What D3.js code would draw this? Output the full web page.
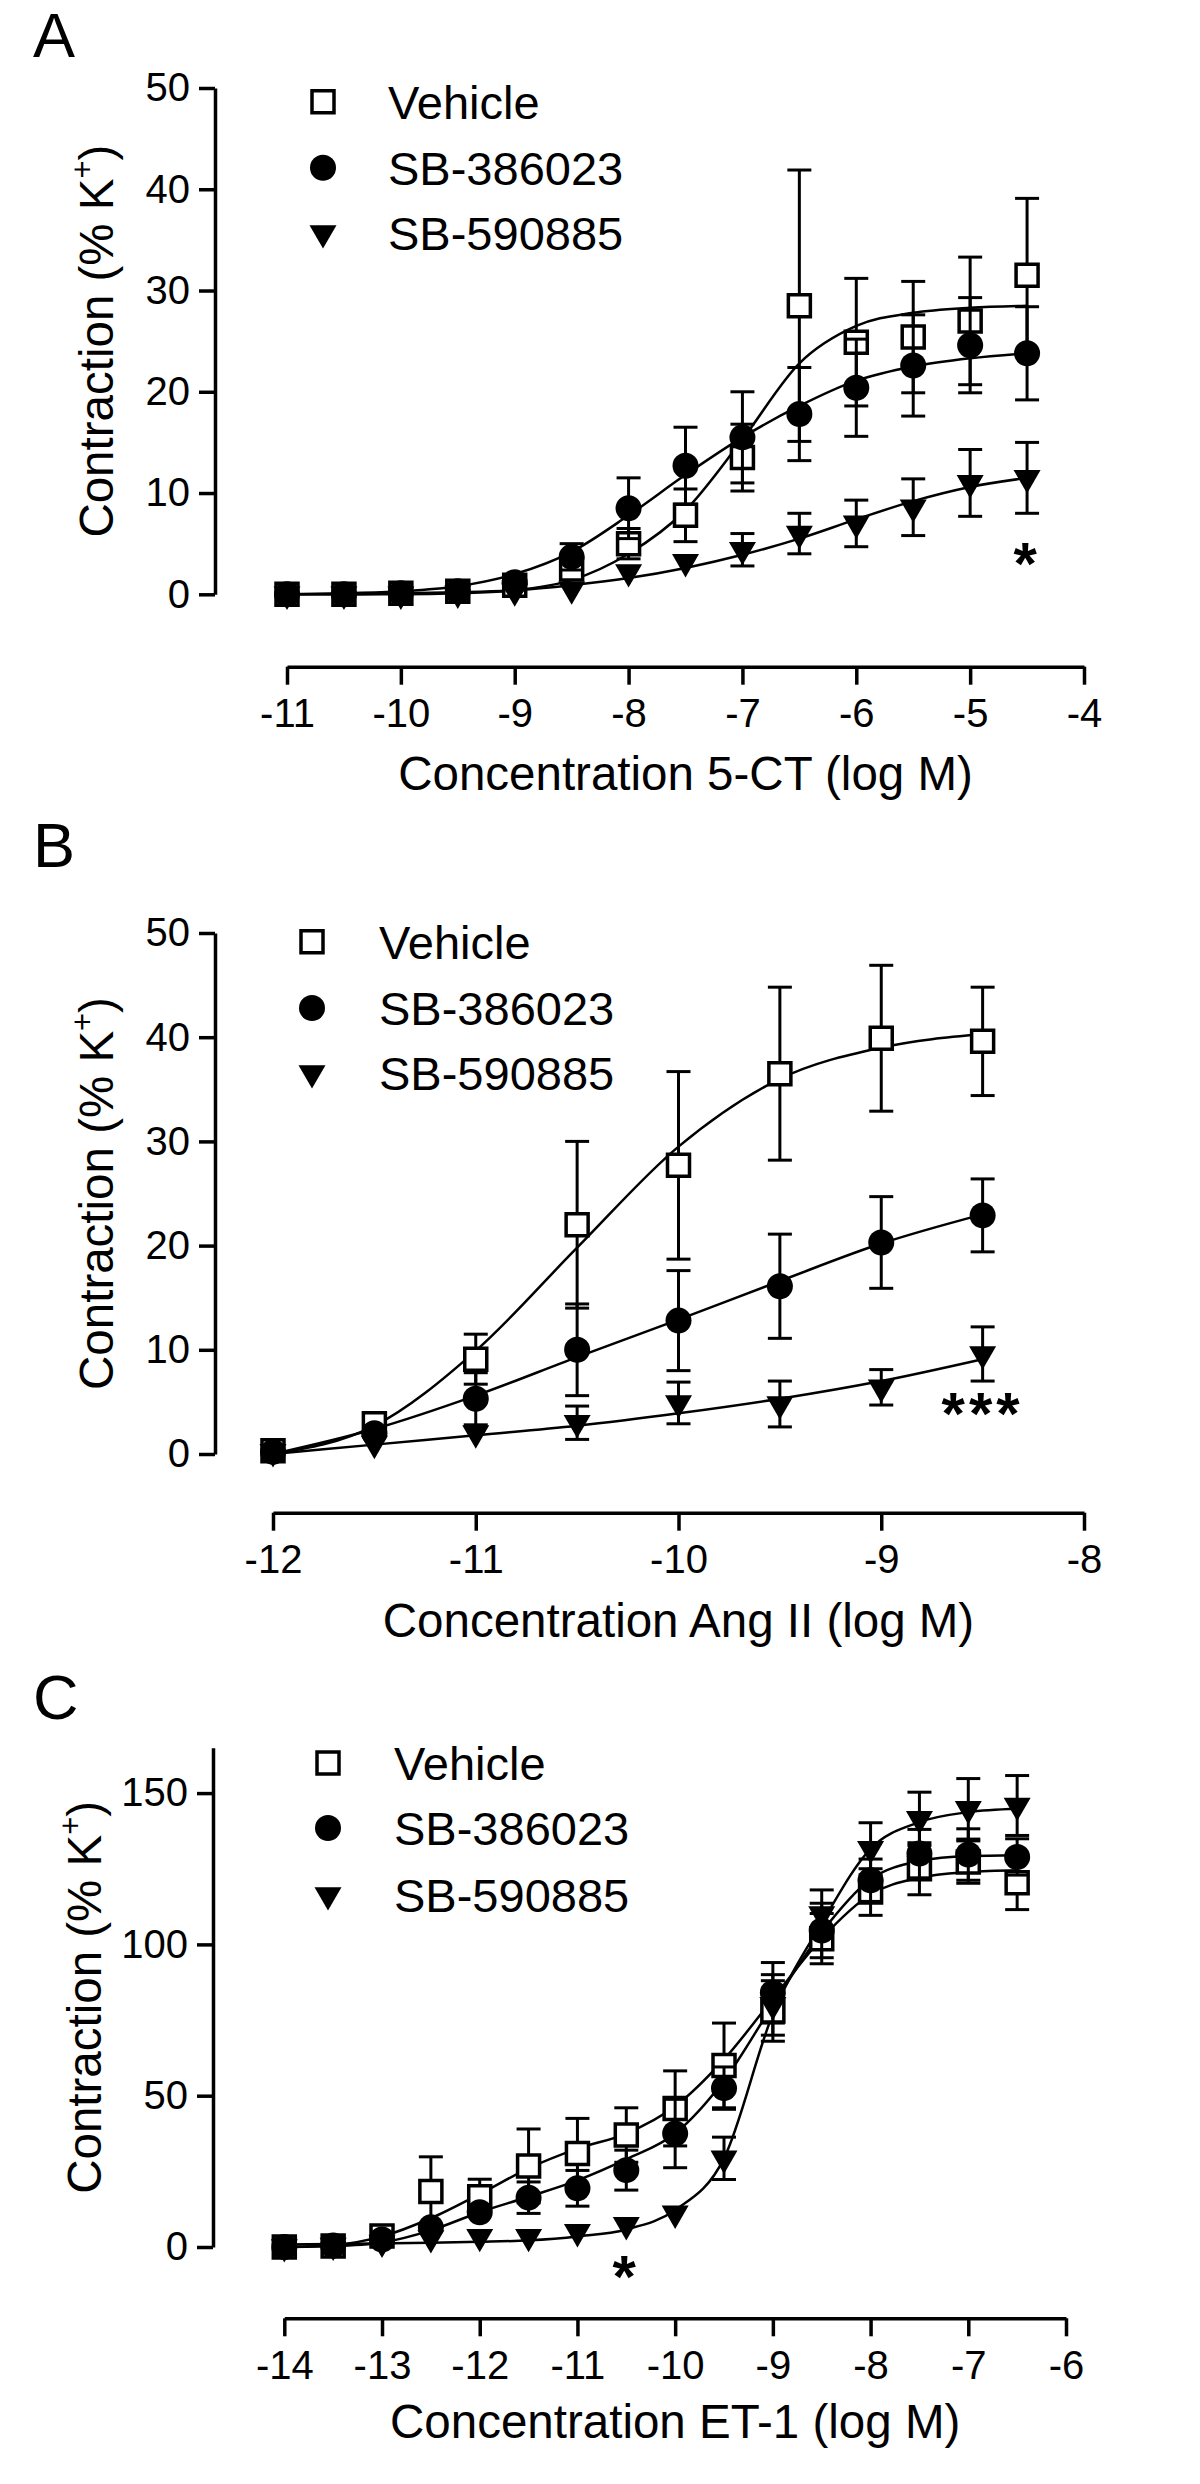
<!DOCTYPE html>
<html><head><meta charset="utf-8">
<script src="https://cdn.jsdelivr.net/npm/d3@7"></script>
<style>
html,body{margin:0;padding:0;background:#fff;}
svg{display:block;}
text{font-family:"Liberation Sans", Arial, Helvetica, sans-serif; fill:#000;}
</style></head><body>
<svg id="fig" width="1200" height="2484"></svg>
<script>
// ================= DATA =================
const seriesNames = ["Vehicle", "SB-386023", "SB-590885"];
const panelLetters = ["A", "B", "C"];
const xTitles = ["Concentration 5-CT (log M)", "Concentration Ang II (log M)", "Concentration ET-1 (log M)"];
const yTitleMain = "Contraction (% K";
const yTitleSup = "+";
const yTitleEnd = ")";

// Panel A : 5-CT
const dosesA = [-11, -10.5, -10, -9.5, -9, -8.5, -8, -7.5, -7, -6.5, -6, -5.5, -5, -4.5];
const vehicleA = [0, 0, 0.1, 0.3, 0.9, 2.5, 5.0, 7.8, 13.5, 28.5, 24.9, 25.4, 27.0, 31.5];
const vehicleSemA = [0, 0, 0, 0.2, 0.3, 0.8, 1.5, 2.6, 3.3, 13.4, 6.3, 5.5, 6.3, 7.6];
const sb386023A = [0, 0, 0.1, 0.3, 1.2, 3.7, 8.5, 12.7, 15.5, 17.8, 20.4, 22.6, 24.6, 23.8];
const sb386023SemA = [0, 0, 0, 0.2, 0.4, 1.3, 3.0, 3.8, 4.5, 4.6, 4.8, 5.0, 4.7, 4.6];
const sb590885A = [0, 0, 0, 0.1, 0.3, 0.5, 2.2, 3.2, 4.4, 6.0, 7.0, 8.6, 11.0, 11.5];
const sb590885SemA = [0, 0, 0, 0, 0.2, 0.4, 0.8, 0.8, 1.6, 2.0, 2.3, 2.8, 3.3, 3.5];
const vehicleFitA = [0, 0, 0, 0.1, 0.4, 1.4, 4.0, 8.3, 15.3, 22.8, 26.5, 27.8, 28.3, 28.5];
const sb386023FitA = [0, 0.1, 0.3, 0.8, 2.0, 4.2, 7.8, 11.8, 15.5, 18.6, 21.1, 22.5, 23.3, 23.8];
const sb590885FitA = [0, 0, 0.1, 0.2, 0.4, 0.9, 1.6, 2.6, 3.9, 5.5, 7.4, 9.2, 10.6, 11.5];
const xDomainA = [-11, -4];
const xTicksA = [-11, -10, -9, -8, -7, -6, -5, -4];
const xTickLabelsA = ["-11", "-10", "-9", "-8", "-7", "-6", "-5", "-4"];
const yDomainA = [0, 50];
const yTicksA = [0, 10, 20, 30, 40, 50];
const yTickLabelsA = ["0", "10", "20", "30", "40", "50"];

// Panel B : Ang II
const dosesB = [-12, -11.5, -11, -10.5, -10, -9.5, -9, -8.5];
const vehicleB = [0.3, 2.9, 9.1, 22.0, 27.7, 36.5, 39.9, 39.6];
const vehicleSemB = [0.2, 0.5, 2.4, 8.0, 9.0, 8.3, 7.0, 5.2];
const sb386023B = [0.2, 2.0, 5.3, 10.0, 12.8, 16.1, 20.3, 22.9];
const sb386023SemB = [0.1, 0.5, 2.5, 4.4, 4.8, 5.0, 4.4, 3.5];
const sb590885B = [0.2, 1.0, 2.0, 3.0, 4.9, 4.8, 6.4, 9.6];
const sb590885SemB = [0.1, 0.3, 0.8, 1.6, 2.0, 2.2, 1.7, 2.6];
const vehicleFitB = [0, 2.7, 9.9, 19.8, 29.5, 36.0, 39.0, 40.3];
const sb386023FitB = [0, 2.4, 5.6, 9.3, 12.9, 16.6, 20.2, 23.0];
const sb590885FitB = [0, 0.9, 1.8, 2.7, 3.9, 5.3, 7.0, 9.1];
const xDomainB = [-12, -8];
const xTicksB = [-12, -11, -10, -9, -8];
const xTickLabelsB = ["-12", "-11", "-10", "-9", "-8"];
const yDomainB = [0, 50];
const yTicksB = [0, 10, 20, 30, 40, 50];
const yTickLabelsB = ["0", "10", "20", "30", "40", "50"];

// Panel C : ET-1
const dosesC = [-14, -13.5, -13, -12.5, -12, -11.5, -11, -10.5, -10, -9.5, -9, -8.5, -8, -7.5, -7, -6.5];
const vehicleC = [0, 0.3, 3.6, 18.3, 16.6, 26.8, 30.9, 37.0, 45.8, 60.0, 78.0, 101.9, 117.3, 125.0, 127.2, 120.4];
const vehicleSemC = [0, 0.5, 1.5, 11.5, 5.8, 12.2, 11.6, 9.0, 12.4, 14.0, 10.0, 8.3, 7.7, 8.6, 7.0, 8.9];
const sb386023C = [0, 0.5, 2.5, 6.5, 11.5, 16.3, 19.4, 25.4, 37.5, 52.5, 84.0, 104.6, 121.2, 130.0, 129.7, 128.9];
const sb386023SemC = [0, 0.3, 1.0, 3.0, 3.5, 5.2, 5.9, 6.6, 11.3, 7.0, 10.0, 9.0, 7.0, 8.0, 8.5, 6.0];
const sb590885C = [0, 0.5, 1.5, 3.0, 3.4, 3.4, 5.0, 7.3, 11.1, 29.3, 80.0, 110.0, 131.6, 141.5, 144.8, 145.9];
const sb590885SemC = [0, 0.3, 0.5, 0.8, 0.8, 0.8, 1.0, 1.2, 1.5, 7.0, 10.0, 8.0, 8.6, 8.8, 10.0, 9.9];
const vehicleFitC = [0, 0.6, 3.5, 9.5, 17.5, 26.0, 32.5, 37.5, 46.5, 62.0, 82.0, 102.0, 116.5, 122.0, 123.9, 124.5];
const sb386023FitC = [0, 0.3, 1.5, 5.5, 11.5, 16.6, 22.0, 29.0, 37.5, 55.0, 80.0, 104.0, 121.5, 127.5, 129.2, 129.5];
const sb590885FitC = [0.8, 1.0, 1.2, 1.4, 1.7, 2.2, 3.5, 5.8, 12.2, 29.3, 77.0, 107.0, 131.6, 140.4, 143.7, 144.8];
const xDomainC = [-14, -6];
const xTicksC = [-14, -13, -12, -11, -10, -9, -8, -7, -6];
const xTickLabelsC = ["-14", "-13", "-12", "-11", "-10", "-9", "-8", "-7", "-6"];
const yDomainC = [0, 165];
const yTicksC = [0, 50, 100, 150];
const yTickLabelsC = ["0", "50", "100", "150"];

// significance marks
const sigLabels = ["*", "***", "*"];
const sigDoses = [-4.5, -8.5, -10.5];

// ================= LAYOUT =================
const layouts = [
  {letterX: 33, letterY: 57, yAxisX: 215, yRange: [594.3, 88], xAxisY: 666.7, xRange: [287, 1084],
   xTitleY: 790, yTitleX: 113, legMarkX: 323, legTextX: 388, legY: [101.7, 167.7, 233], sigY: 549},
  {letterX: 33, letterY: 867, yAxisX: 215, yRange: [1454, 933], xAxisY: 1512.7, xRange: [273, 1084],
   xTitleY: 1637, yTitleX: 113, legMarkX: 312, legTextX: 379, legY: [941.7, 1008, 1073], sigY: 1399},
  {letterX: 33, letterY: 1719, yAxisX: 213, yRange: [2247, 1747.7], xAxisY: 2318.3, xRange: [284.3, 1066],
   xTitleY: 2438, yTitleX: 101, legMarkX: 328, legTextX: 394, legY: [1763, 1828, 1895], sigY: 2262}
];
const TICK_FONT = 40, TITLE_FONT = 47.5, LEG_FONT = 47, LETTER_FONT = 63, SIG_FONT = 60;
const AXIS_W = 3.5, CURVE_W = 2.5, BAR_W = 3, CAP_W = 24;

const panels = [
  {doses: dosesA, means: [vehicleA, sb386023A, sb590885A], sems: [vehicleSemA, sb386023SemA, sb590885SemA],
   fits: [vehicleFitA, sb386023FitA, sb590885FitA], xDomain: xDomainA, xTicks: xTicksA, xTickLabels: xTickLabelsA,
   yDomain: yDomainA, yTicks: yTicksA, yTickLabels: yTickLabelsA},
  {doses: dosesB, means: [vehicleB, sb386023B, sb590885B], sems: [vehicleSemB, sb386023SemB, sb590885SemB],
   fits: [vehicleFitB, sb386023FitB, sb590885FitB], xDomain: xDomainB, xTicks: xTicksB, xTickLabels: xTickLabelsB,
   yDomain: yDomainB, yTicks: yTicksB, yTickLabels: yTickLabelsB},
  {doses: dosesC, means: [vehicleC, sb386023C, sb590885C], sems: [vehicleSemC, sb386023SemC, sb590885SemC],
   fits: [vehicleFitC, sb386023FitC, sb590885FitC], xDomain: xDomainC, xTicks: xTicksC, xTickLabels: xTickLabelsC,
   yDomain: yDomainC, yTicks: yTicksC, yTickLabels: yTickLabelsC}
];

const svg = d3.select("#fig");
svg.append("rect").attr("width", 1200).attr("height", 2484).attr("fill", "#fff");

const symSquare = d3.symbol().type(d3.symbolSquare).size(22 * 22)();
const symCircle = d3.symbol().type(d3.symbolCircle).size(Math.PI * 13 * 13)();
const symTri = d3.symbol().type(d3.symbolTriangle).size(Math.sqrt(3) / 4 * 27 * 27)();

function drawMarker(g, k, cx, cy) {
  if (k === 0) {
    g.append("path").attr("d", symSquare).attr("transform", `translate(${cx},${cy})`)
      .attr("fill", "#fff").attr("stroke", "#000").attr("stroke-width", 3.5);
  } else if (k === 1) {
    g.append("path").attr("d", symCircle).attr("transform", `translate(${cx},${cy})`).attr("fill", "#000");
  } else {
    g.append("path").attr("d", symTri).attr("transform", `translate(${cx},${cy}) rotate(180)`).attr("fill", "#000");
  }
}

panels.forEach((p, pi) => {
  const L = layouts[pi];
  const g = svg.append("g");
  const x = d3.scaleLinear().domain(p.xDomain).range(L.xRange);
  const y = d3.scaleLinear().domain(p.yDomain).range(L.yRange);

  // panel letter
  g.append("text").attr("x", L.letterX).attr("y", L.letterY).attr("font-size", LETTER_FONT).text(panelLetters[pi]);

  // y axis
  const yAx = d3.axisLeft(y).tickValues(p.yTicks)
    .tickFormat(d => p.yTickLabels[p.yTicks.indexOf(d)])
    .tickSize(16).tickSizeOuter(0).tickPadding(9);
  const gy = g.append("g").attr("transform", `translate(${L.yAxisX},0)`).call(yAx);
  // x axis
  const xAx = d3.axisBottom(x).tickValues(p.xTicks)
    .tickFormat(d => p.xTickLabels[p.xTicks.indexOf(d)])
    .tickSize(18).tickSizeOuter(0).tickPadding(14);
  const gx = g.append("g").attr("transform", `translate(0,${L.xAxisY})`).call(xAx);
  [gy, gx].forEach(a => {
    a.select(".domain").attr("stroke", "#000").attr("stroke-width", AXIS_W);
    a.selectAll(".tick line").attr("stroke", "#000").attr("stroke-width", AXIS_W);
    a.selectAll(".tick text").attr("font-size", TICK_FONT).attr("fill", "#000")
      .attr("font-family", '"Liberation Sans", Arial, Helvetica, sans-serif');
  });

  // axis titles
  g.append("text").attr("x", (L.xRange[0] + L.xRange[1]) / 2).attr("y", L.xTitleY)
    .attr("text-anchor", "middle").attr("font-size", TITLE_FONT).text(xTitles[pi]);
  const yc = (L.yRange[0] + L.yRange[1]) / 2;
  const yt = g.append("text").attr("transform", `translate(${L.yTitleX},${yc}) rotate(-90)`)
    .attr("text-anchor", "middle").attr("font-size", TITLE_FONT);
  yt.append("tspan").text(yTitleMain);
  yt.append("tspan").attr("font-size", TITLE_FONT * 0.65).attr("dy", -TITLE_FONT * 0.42).text(yTitleSup);
  yt.append("tspan").attr("dy", TITLE_FONT * 0.42).text(yTitleEnd);

  // fitted curves
  const line = d3.line().x(d => x(d[0])).y(d => y(d[1])).curve(d3.curveMonotoneX);
  p.fits.forEach(f => {
    g.append("path").datum(p.doses.map((d, i) => [d, f[i]])).attr("d", line)
      .attr("fill", "none").attr("stroke", "#000").attr("stroke-width", CURVE_W);
  });

  // data: error bars then markers
  p.means.forEach((m, k) => {
    const sem = p.sems[k];
    const gs = g.append("g");
    p.doses.forEach((d, i) => {
      const cx = x(d), cy = y(m[i]);
      const up = y(m[i] + sem[i]), lo = y(Math.max(0, m[i] - sem[i]));
      if (cy - up > 11) {
        gs.append("line").attr("x1", cx).attr("x2", cx).attr("y1", lo).attr("y2", up)
          .attr("stroke", "#000").attr("stroke-width", BAR_W);
        gs.append("line").attr("x1", cx - CAP_W / 2).attr("x2", cx + CAP_W / 2).attr("y1", up).attr("y2", up)
          .attr("stroke", "#000").attr("stroke-width", BAR_W);
        gs.append("line").attr("x1", cx - CAP_W / 2).attr("x2", cx + CAP_W / 2).attr("y1", lo).attr("y2", lo)
          .attr("stroke", "#000").attr("stroke-width", BAR_W);
      }
    });
    p.doses.forEach((d, i) => drawMarker(gs, k, x(d), y(m[i])));
  });

  // legend
  seriesNames.forEach((name, k) => {
    drawMarker(g, k, L.legMarkX, L.legY[k]);
    g.append("text").attr("x", L.legTextX).attr("y", L.legY[k] + LEG_FONT * 0.36)
      .attr("font-size", LEG_FONT).text(name);
  });

  // significance
  g.append("text").attr("x", x(sigDoses[pi])).attr("y", L.sigY + SIG_FONT * 0.58)
    .attr("text-anchor", "middle").attr("font-size", SIG_FONT).attr("font-weight", "bold")
    .attr("letter-spacing", 4).text(sigLabels[pi]);
});
</script>
</body></html>
